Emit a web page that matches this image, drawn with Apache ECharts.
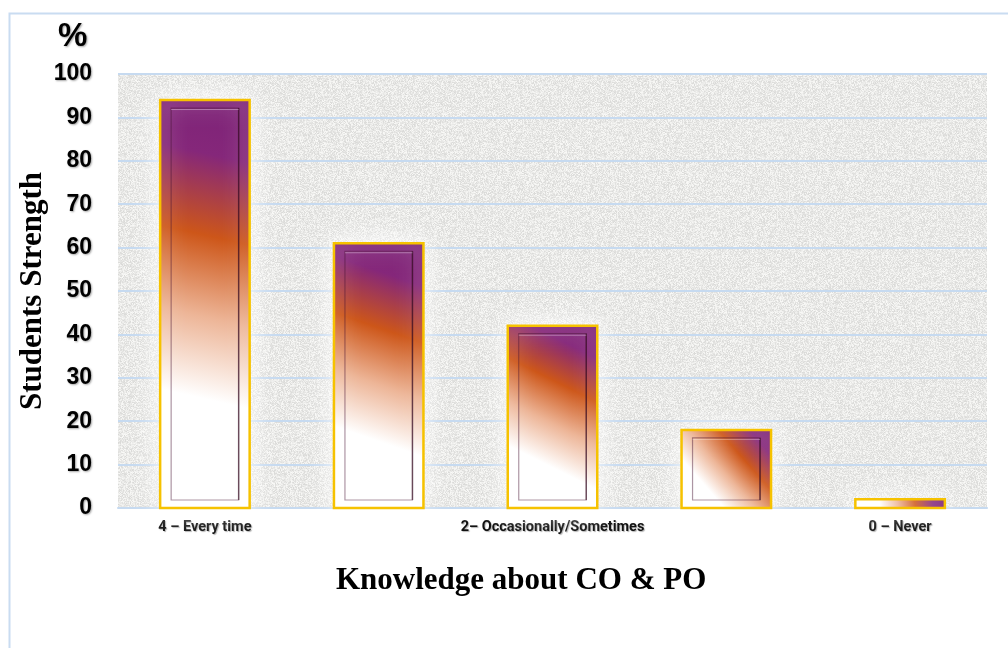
<!DOCTYPE html>
<html><head><meta charset="utf-8">
<script src="https://cdn.jsdelivr.net/npm/echarts@6/dist/echarts.min.js"></script>
<style>html,body{margin:0;padding:0;background:#fff}#c{width:1008px;height:648px}</style>
</head><body><div id="c"></div>
<script>
const categories = ['4 – Every time', '3 – Frequently', '2– Occasionally/Sometimes', '1 – Rarely', '0 – Never'];
const values = [94, 61, 42, 18, 2];
const yTicks = [0, 10, 20, 30, 40, 50, 60, 70, 80, 90, 100];

// deterministic speckled texture for the plot background
function makeTexture() {
  const c = document.createElement('canvas');
  c.width = 160; c.height = 160;
  const ctx = c.getContext('2d');
  const img = ctx.createImageData(160, 160);
  let s = 12345;
  function h() { s = (s * 1103515245 + 12345) & 0x7fffffff; return s / 0x7fffffff; }
  for (let i = 0; i < 160 * 160; i++) {
    const g = 218 + Math.floor(h() * 32);
    img.data[i * 4] = g; img.data[i * 4 + 1] = g; img.data[i * 4 + 2] = g - 2; img.data[i * 4 + 3] = 255;
  }
  ctx.putImageData(img, 0, 0);
  ctx.filter = 'blur(0.6px)';
  ctx.drawImage(c, 0, 0);
  return c;
}

const chart = echarts.init(document.getElementById('c'));
function grad() {
  return new echarts.graphic.LinearGradient(0, 1, 1, 0, [
    {offset: 0, color: '#ffffff'},
    {offset: 0.28, color: '#ffffff'},
    {offset: 0.47, color: '#edb597'},
    {offset: 0.66, color: '#cd5619'},
    {offset: 0.85, color: '#85277a'},
    {offset: 1, color: '#7c2277'}
  ]);
}
chart.setOption({
  backgroundColor: '#ffffff',
  graphic: [
    {type: 'rect', left: 7, top: 11, shape: {width: 1010, height: 650}, style: {fill: 'none', stroke: '#c9dcf1', lineWidth: 2}, z: -10},
    {type: 'text', left: 58, top: 20, style: {text: '%', font: 'bold 33px "Liberation Sans", Arial', fill: '#000', textShadowColor: 'rgba(0,0,0,0.35)', textShadowBlur: 2, textShadowOffsetX: 1, textShadowOffsetY: 1}},
    {type: 'text', left: 336, top: 565, style: {text: 'Knowledge about CO & PO', font: 'bold 31px "Liberation Serif", "Times New Roman", serif', fill: '#000'}},
    {type: 'text', x: 33, y: 291, rotation: Math.PI / 2, style: {text: 'Students Strength', font: 'bold 31px "Liberation Serif", "Times New Roman", serif', fill: '#000', align: 'center', verticalAlign: 'middle'}}
  ],
  grid: {left: 118, right: 21, top: 74, bottom: 140, show: true, backgroundColor: {image: makeTexture(), repeat: 'repeat'}, borderWidth: 0},
  xAxis: {
    type: 'category', data: categories,
    axisLine: {show: true, lineStyle: {color: '#c6daf0', width: 2}},
    axisTick: {show: false},
    axisLabel: {interval: 1, margin: 12, fontFamily: 'Roboto, "Liberation Sans"', fontWeight: 'bold', fontSize: 14.5, color: '#111',
      textShadowColor: 'rgba(0,0,0,0.3)', textShadowBlur: 1, textShadowOffsetX: 1, textShadowOffsetY: 1}
  },
  yAxis: {
    type: 'value', min: yTicks[0], max: yTicks[yTicks.length - 1], interval: 10,
    axisLine: {show: false}, axisTick: {show: false},
    axisLabel: {margin: 26, fontFamily: '"Liberation Sans", Arial', fontWeight: 'bold', fontSize: 23, color: '#000',
      textShadowColor: 'rgba(0,0,0,0.35)', textShadowBlur: 2, textShadowOffsetX: 1, textShadowOffsetY: 1},
    splitLine: {show: true, lineStyle: {color: '#c6daf0', width: 2}}
  },
  series: [{
    type: 'custom',
    data: values,
    renderItem: function (params, api) {
      const idx = api.value(0);
      const v = api.value(1);
      const top = api.coord([idx, v]);
      const base = api.coord([idx, 0]);
      const bw = api.size([1, 0])[0] * 0.515;
      const x = top[0] - bw / 2, y = top[1], h = base[1] - top[1];
      const children = [{
        type: 'rect',
        shape: {x: x, y: y, width: bw, height: h},
        style: {fill: grad(), stroke: '#f6c200', lineWidth: 2.5, shadowColor: 'rgba(255,255,255,1)', shadowBlur: 24}
      }];
      if (h > 20) {
        const ix = 11, iy = 8;
        children.push({
          type: 'rect',
          shape: {x: x + ix, y: y + iy, width: bw - 2 * ix, height: h - 2 * iy},
          style: {fill: 'none', stroke: 'rgba(70,20,50,0.45)', lineWidth: 1.2}
        });
        children.push({
          type: 'line',
          shape: {x1: x + bw - ix, y1: y + iy, x2: x + bw - ix, y2: y + h - iy},
          style: {stroke: 'rgba(50,10,30,0.55)', lineWidth: 1.5}
        });
        children.push({
          type: 'line',
          shape: {x1: x + ix, y1: y + iy + 1.5, x2: x + bw - ix, y2: y + iy + 1.5},
          style: {stroke: 'rgba(255,255,255,0.35)', lineWidth: 1}
        });
      }
      return {type: 'group', children: children};
    },
    encode: {x: 0, y: 1}
  }]
});
</script></body></html>
